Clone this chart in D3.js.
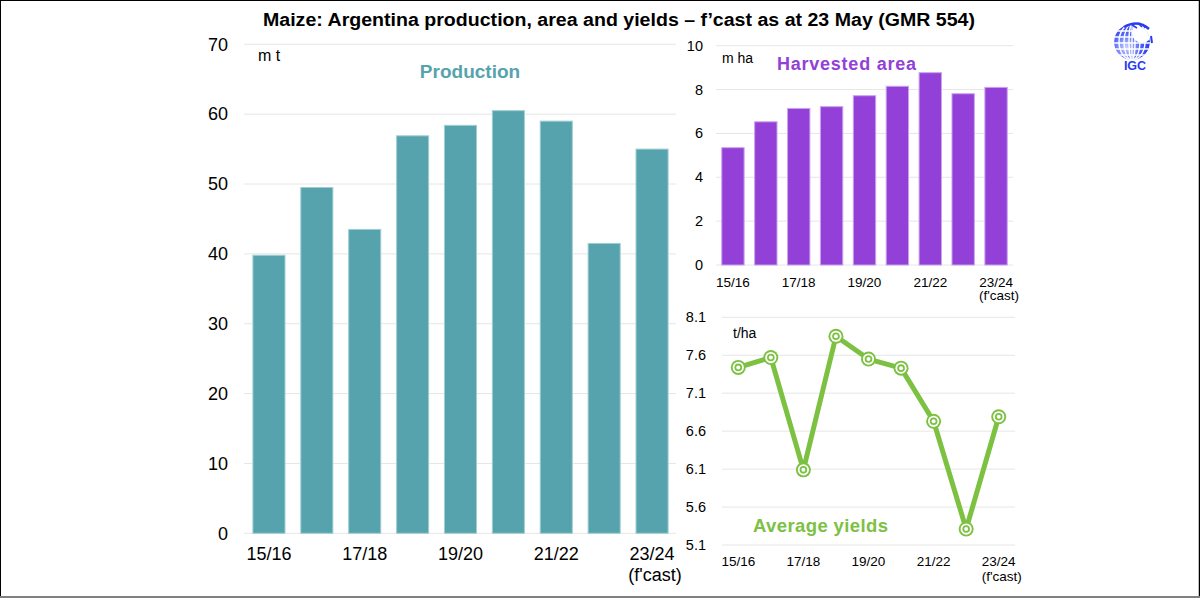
<!DOCTYPE html>
<html><head><meta charset="utf-8">
<script src="https://cdn.jsdelivr.net/npm/d3@7"></script>
<style>
html,body{margin:0;padding:0;background:#fff;}
svg{display:block;font-family:"Liberation Sans",Arial,sans-serif;}
</style></head>
<body>
<svg id="chart" width="1200" height="598"></svg>
<script>
// ---- data ----
const seasons = ["15/16","16/17","17/18","18/19","19/20","20/21","21/22","22/23","23/24"];
const tickSeasons = ["15/16","17/18","19/20","21/22","23/24"];
const production = [39.8, 49.5, 43.5, 56.9, 58.4, 60.5, 59.0, 41.5, 55.0];
const area = [5.35, 6.53, 7.14, 7.22, 7.72, 8.15, 8.77, 7.81, 8.10];
const yields = [7.44, 7.57, 6.09, 7.85, 7.55, 7.43, 6.73, 5.31, 6.79];
const prodTicks = [0,10,20,30,40,50,60,70];
const areaTicks = [0,2,4,6,8,10];
const yieldTicks = [5.1,5.6,6.1,6.6,7.1,7.6,8.1];

const svg = d3.select("#chart");
const W = 1200, H = 598;
svg.append("rect").attr("x",0).attr("y",0).attr("width",W).attr("height",H).attr("fill","#fff");

// title
svg.append("text").attr("x",263).attr("y",26)
  .attr("font-family","'Liberation Sans Narrow','Liberation Sans',sans-serif")
  .attr("font-weight","bold").attr("font-size",18).attr("fill","#000")
  .attr("textLength",712).attr("lengthAdjust","spacingAndGlyphs")
  .text("Maize: Argentina production, area and yields \u2013 f\u2019cast as at 23 May (GMR 554)");

const grid = "#e6e6e6";

function drawGrid(g, y, ticks, x0, x1){
  g.selectAll("line.grid").data(ticks).join("line").attr("class","grid")
    .attr("x1",x0).attr("x2",x1).attr("y1",d=>y(d)).attr("y2",d=>y(d))
    .attr("stroke",grid).attr("stroke-width",1);
}
function drawYLabels(g, y, ticks, xr, fs, fmt){
  g.selectAll("text.yl").data(ticks).join("text").attr("class","yl")
    .attr("x",xr).attr("y",d=>y(d)).attr("dy","0.35em").attr("text-anchor","end")
    .attr("font-size",fs).attr("fill","#000").text(fmt);
}
function drawXLabels(g, xc, yb, fs, gap){
  g.selectAll("text.xl").data(tickSeasons).join("text").attr("class","xl")
    .attr("x",d=>xc(d)).attr("y",yb).attr("text-anchor","middle")
    .attr("font-size",fs).attr("fill","#000").text(d=>d);
  g.append("text").attr("x",xc("23/24")+3).attr("y",yb+gap).attr("text-anchor","middle")
    .attr("font-size",fs).attr("fill","#000").text("(f'cast)");
}

// ---- Production ----
{
  const g = svg.append("g");
  const x = d3.scaleBand().domain(seasons).range([245,676]).paddingInner(0.33).paddingOuter(0.165);
  const y = d3.scaleLinear().domain([0,70]).range([533.3,44.3]);
  drawGrid(g, y, prodTicks, 244, 676);
  g.selectAll("rect.bar").data(production).join("rect").attr("class","bar")
    .attr("x",(d,i)=>x(seasons[i])).attr("width",x.bandwidth())
    .attr("y",d=>y(d)).attr("height",d=>y(0)-y(d))
    .attr("fill","#57A3AD").attr("stroke","#9fcfd5").attr("stroke-width",1);
  drawYLabels(g, y, prodTicks, 228, 18, d=>d);
  drawXLabels(g, d=>x(d)+x.bandwidth()/2, 560, 18, 21);
  g.append("text").attr("x",258).attr("y",61).attr("font-size",16).text("m t");
  g.append("text").attr("x",470).attr("y",78).attr("text-anchor","middle")
    .attr("font-size",19).attr("font-weight","bold").attr("fill","#57A3AD").text("Production");
}

// ---- Area ----
{
  const g = svg.append("g");
  const x = d3.scaleBand().domain(seasons).range([716.5,1012.5]).paddingInner(0.32).paddingOuter(0.16);
  const y = d3.scaleLinear().domain([0,10]).range([265,45.7]);
  drawGrid(g, y, areaTicks, 716, 1013);
  g.selectAll("rect.bar").data(area).join("rect").attr("class","bar")
    .attr("x",(d,i)=>x(seasons[i])).attr("width",x.bandwidth())
    .attr("y",d=>y(d)).attr("height",d=>y(0)-y(d))
    .attr("fill","#9340D8").attr("stroke","#c9a3ef").attr("stroke-width",1);
  drawYLabels(g, y, areaTicks, 703, 14.5, d=>d);
  drawXLabels(g, d=>x(d)+x.bandwidth()/2, 286.5, 13.5, 13.5);
  g.append("text").attr("x",722).attr("y",62.5).attr("font-size",14).text("m ha");
  g.append("text").attr("x",777).attr("y",69.5)
    .attr("font-size",18).attr("font-weight","bold").attr("fill","#9340D8").attr("textLength",139).text("Harvested area");
}

// ---- Yields ----
{
  const g = svg.append("g");
  const x = d3.scalePoint().domain(seasons).range([722,1015]).padding(0.5);
  const y = d3.scaleLinear().domain([5.1,8.1]).range([545,317.3]);
  drawGrid(g, y, yieldTicks, 722, 1015);
  const green = "#7CC142";
  const line = d3.line().x((d,i)=>x(seasons[i])).y(d=>y(d));
  g.append("path").datum(yields).attr("d",line).attr("fill","none")
    .attr("stroke",green).attr("stroke-width",5).attr("stroke-linejoin","round");
  const m = g.selectAll("g.mk").data(yields).join("g").attr("class","mk")
    .attr("transform",(d,i)=>`translate(${x(seasons[i])},${y(d)})`);
  m.append("circle").attr("r",7.5).attr("fill",green);
  m.append("circle").attr("r",5.6).attr("fill","#fff");
  m.append("circle").attr("r",3.8).attr("fill",green);
  m.append("circle").attr("r",2).attr("fill","#fff");
  drawYLabels(g, y, yieldTicks, 706, 14.5, d=>d.toFixed(1));
  drawXLabels(g, d=>x(d), 565.5, 13.5, 15);
  g.append("text").attr("x",733).attr("y",338).attr("font-size",14).text("t/ha");
  g.append("text").attr("x",753).attr("y",531.5)
    .attr("font-size",18.5).attr("font-weight","bold").attr("fill",green).attr("textLength",135).text("Average yields");
}

// ---- IGC logo ----
{
  const g = svg.append("g").attr("transform","translate(1132,42)");
  const defs = svg.append("defs");
  const rg = defs.append("radialGradient").attr("id","gl").attr("cx","35%").attr("cy","65%").attr("r","75%");
  rg.append("stop").attr("offset","0%").attr("stop-color","#c9d2ff");
  rg.append("stop").attr("offset","55%").attr("stop-color","#4a5cf5");
  rg.append("stop").attr("offset","100%").attr("stop-color","#1f2fe8");
  defs.append("clipPath").attr("id","globe").append("circle").attr("r",18);
  const gg = g.append("g").attr("clip-path","url(#globe)");
  gg.append("circle").attr("r",18).attr("fill","url(#gl)");
  // white grid lines (meridians and parallels)
  [3,8,13].forEach(rx=>{
    gg.append("ellipse").attr("rx",rx).attr("ry",18).attr("fill","none").attr("stroke","#fff").attr("stroke-width",1.4);
  });
  gg.append("line").attr("x1",0).attr("x2",0).attr("y1",-18).attr("y2",18).attr("stroke","#fff").attr("stroke-width",1.4);
  [-11,-5,1,7,13].forEach(dy=>{
    gg.append("line").attr("x1",-18).attr("x2",18).attr("y1",dy).attr("y2",dy).attr("stroke","#fff").attr("stroke-width",1.4);
  });
  // white cut at top right
  gg.append("circle").attr("cx",10).attr("cy",-9).attr("r",10).attr("fill","#fff");
  // wheat arc
  g.append("path").attr("d","M-8,-15 Q6,-23 17,-13").attr("fill","none").attr("stroke","#2a3cf0").attr("stroke-width",2.5);
  g.append("path").attr("d","M0,-17 L5,-14 M6,-19 L10,-15 M11,-18 L13,-14").attr("fill","none").attr("stroke","#2a3cf0").attr("stroke-width",1.5);
  g.append("path").attr("d","M19,-6 L20,1").attr("fill","none").attr("stroke","#2a3cf0").attr("stroke-width",2);
  g.append("text").attr("x",3).attr("y",28).attr("text-anchor","middle")
    .attr("font-size",12.5).attr("font-weight","bold").attr("fill","#2a3cf0").text("IGC");
}

// ---- frame ----
svg.append("line").attr("x1",0).attr("x2",W).attr("y1",0.5).attr("y2",0.5).attr("stroke","#000").attr("stroke-width",1);
svg.append("line").attr("x1",0.5).attr("x2",0.5).attr("y1",0).attr("y2",H).attr("stroke","#000").attr("stroke-width",1);
svg.append("line").attr("x1",W-0.5).attr("x2",W-0.5).attr("y1",0).attr("y2",H).attr("stroke","#000").attr("stroke-width",1.5);
svg.append("line").attr("x1",0).attr("x2",W).attr("y1",H-1).attr("y2",H-1).attr("stroke","#808080").attr("stroke-width",2);
</script>
</body></html>
